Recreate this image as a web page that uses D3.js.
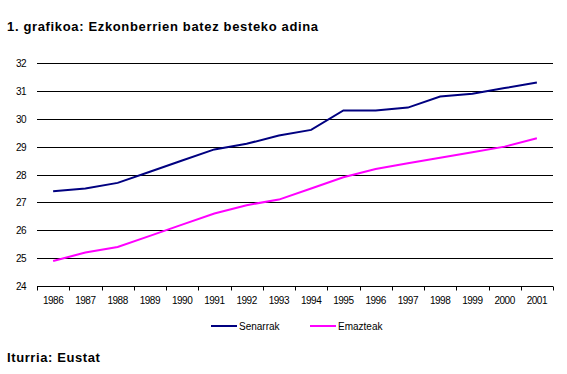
<!DOCTYPE html>
<html>
<head>
<meta charset="utf-8">
<script src="https://cdn.jsdelivr.net/npm/d3@7.9.0/dist/d3.min.js"></script>
<style>
  body { margin: 0; background: #fff; }
  svg { display: block; font-family: "Liberation Sans", Arial, sans-serif; }
</style>
</head>
<body>
<svg id="chart" width="567" height="374"></svg>
<script>
// data
const years = ["1986", "1987", "1988", "1989", "1990", "1991", "1992", "1993",
  "1994", "1995", "1996", "1997", "1998", "1999", "2000", "2001"];
const senarrak = [27.4, 27.5, 27.7, 28.1, 28.5, 28.9, 29.1, 29.4, 29.6, 30.3, 30.3, 30.4, 30.8, 30.9, 31.1, 31.3];
const emazteak = [24.9, 25.2, 25.4, 25.8, 26.2, 26.6, 26.9, 27.1, 27.5, 27.9, 28.2, 28.4, 28.6, 28.8, 29.0, 29.3];
const yTicks = [24, 25, 26, 27, 28, 29, 30, 31, 32];

const series = [
  { name: "Senarrak", values: senarrak, color: "#000080" },
  { name: "Emazteak", values: emazteak, color: "#ff00ff" }
];

const svg = d3.select("#chart");
const plotLeft = 37, plotRight = 553, plotTop = 63, plotBottom = 286;

const x = d3.scaleBand().domain(years).range([plotLeft, plotRight]);
const y = d3.scaleLinear().domain([24, 32]).range([plotBottom, plotTop]);

// title
svg.append("text")
  .attr("x", 7).attr("y", 31)
  .attr("font-size", 13).attr("font-weight", "bold")
  .attr("letter-spacing", 0.65)
  .text("1. grafikoa: Ezkonberrien batez besteko adina");

// gridlines
svg.append("g")
  .selectAll("line")
  .data(yTicks.slice(1))
  .join("line")
  .attr("x1", plotLeft).attr("x2", plotRight)
  .attr("y1", d => Math.round(y(d)) + 0.5).attr("y2", d => Math.round(y(d)) + 0.5)
  .attr("stroke", "#000");

// y labels
svg.append("g")
  .selectAll("text")
  .data(yTicks)
  .join("text")
  .attr("x", 26).attr("y", d => y(d) + 4)
  .attr("text-anchor", "end")
  .attr("font-size", 10)
  .attr("letter-spacing", -0.5)
  .text(d => d);

// x axis
const xAxis = svg.append("g")
  .attr("transform", `translate(0,${plotBottom + 0.5})`);
xAxis.append("line")
  .attr("x1", plotLeft).attr("x2", plotRight)
  .attr("stroke", "#000");
xAxis.selectAll(".tick")
  .data(years.concat(["end"]))
  .join("line")
  .attr("class", "tick")
  .attr("x1", (d, i) => Math.round(plotLeft + i * x.step()) + 0.5)
  .attr("x2", (d, i) => Math.round(plotLeft + i * x.step()) + 0.5)
  .attr("y1", 0).attr("y2", 4)
  .attr("stroke", "#000");
xAxis.selectAll("text")
  .data(years)
  .join("text")
  .attr("x", d => x(d) + x.bandwidth() / 2)
  .attr("y", 17)
  .attr("text-anchor", "middle")
  .attr("font-size", 10)
  .attr("letter-spacing", -0.5)
  .text(d => d);

// lines
const line = d3.line()
  .x((d, i) => x(years[i]) + x.bandwidth() / 2)
  .y(d => y(d));

svg.append("g")
  .selectAll("path")
  .data(series)
  .join("path")
  .attr("d", d => line(d.values))
  .attr("fill", "none")
  .attr("stroke", d => d.color)
  .attr("stroke-width", 2);

// legend
const legend = svg.append("g")
  .selectAll("g")
  .data(series)
  .join("g")
  .attr("transform", (d, i) => `translate(${211 + i * 99},326)`);
legend.append("line")
  .attr("x1", 0).attr("x2", 26)
  .attr("stroke", d => d.color)
  .attr("stroke-width", 2);
legend.append("text")
  .attr("x", 28).attr("y", 4)
  .attr("font-size", 10)
  .text(d => d.name);

// source
svg.append("text")
  .attr("x", 7).attr("y", 362)
  .attr("font-size", 13).attr("font-weight", "bold")
  .attr("letter-spacing", 0.6)
  .text("Iturria: Eustat");
</script>
</body>
</html>
